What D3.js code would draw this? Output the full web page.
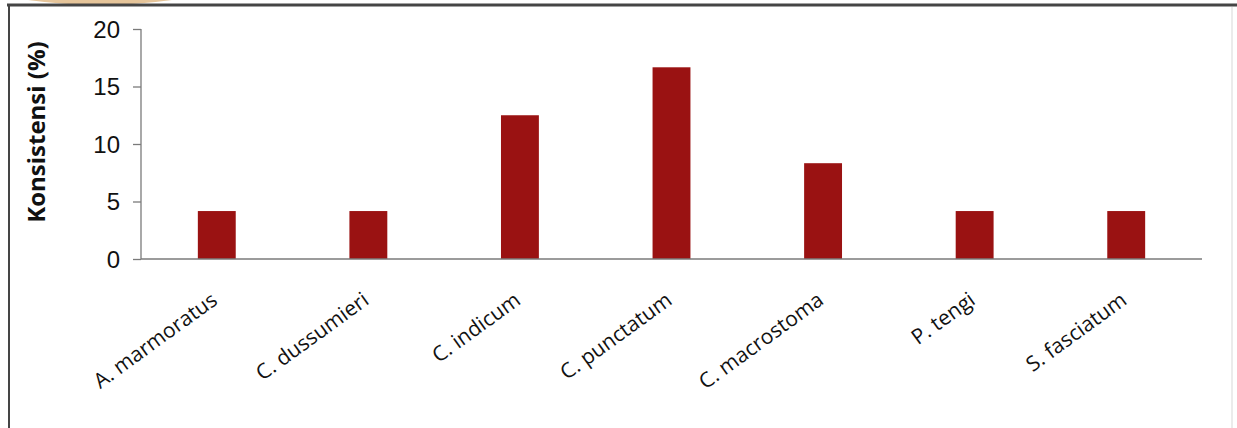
<!DOCTYPE html>
<html>
<head>
<meta charset="utf-8">
<script src="https://cdn.jsdelivr.net/npm/d3@7"></script>
<style>
  html, body { margin: 0; padding: 0; background: #fff; }
  svg { display: block; font-family: "Open Sans", "Noto Sans", sans-serif; }
</style>
</head>
<body>
<div id="chart"></div>
<script>
// Konsistensi (%) per species
const species = ['A. marmoratus', 'C. dussumieri', 'C. indicum', 'C. punctatum', 'C. macrostoma', 'P. tengi', 'S. fasciatum'];
const konsistensi = [4.17, 4.17, 12.5, 16.67, 8.33, 4.17, 4.17];
const yTicks = [0, 5, 10, 15, 20];

const W = 1237, H = 428;
const MARGIN = { top: 29, right: 35, bottom: 169, left: 141 };
const innerW = W - MARGIN.left - MARGIN.right;
const innerH = H - MARGIN.top - MARGIN.bottom;

const svg = d3.select('#chart').append('svg')
  .attr('width', W).attr('height', H);

// photo frame
svg.append('path')
  .attr('d', 'M28,0 Q100,10 172,0 Z')
  .attr('fill', '#e6c59a');
svg.append('line').attr('x1', 7).attr('x2', W).attr('y1', 5).attr('y2', 5)
  .attr('stroke', '#454545').attr('stroke-width', 3);
svg.append('line').attr('x1', 9).attr('x2', 9).attr('y1', 5).attr('y2', H)
  .attr('stroke', '#454545').attr('stroke-width', 2);
svg.append('line').attr('x1', 1232).attr('x2', 1232).attr('y1', 7).attr('y2', H)
  .attr('stroke', '#e4e4e4').attr('stroke-width', 1.5);

const g = svg.append('g').attr('transform', `translate(${MARGIN.left},${MARGIN.top})`);

const x = d3.scaleBand().domain(species).range([0, innerW]).paddingInner(0.75).paddingOuter(0.375);
const y = d3.scaleLinear().domain([0, 20]).range([innerH, 0]);

// bars
g.selectAll('.bar')
  .data(species)
  .join('rect')
    .attr('class', 'bar')
    .attr('x', (d) => x(d))
    .attr('y', (d, i) => y(konsistensi[i]))
    .attr('width', x.bandwidth())
    .attr('height', (d, i) => innerH - y(konsistensi[i]))
    .attr('fill', '#9a1212');

// y axis
g.append('g')
  .call(d3.axisLeft(y).tickValues(yTicks).tickSize(8).tickPadding(13))
  .call(ax => ax.selectAll('path, line').attr('stroke', '#7a7a7a').attr('stroke-width', 1.3))
  .call(ax => ax.select('.domain').attr('d', `M0,0V${innerH}`))
  .call(ax => ax.selectAll('text').attr('fill', '#111').style('font-size', '24px').attr('dy', '0.35em'));

// x axis line
g.append('g')
  .attr('transform', `translate(0,${innerH})`)
  .call(d3.axisBottom(x).tickSize(0).tickFormat(''))
  .call(ax => ax.select('.domain').attr('stroke', '#7a7a7a').attr('stroke-width', 1.6).attr('d', `M0,0H${innerW}`));

// rotated category labels
g.selectAll('.cat-label')
  .data(species)
  .join('text')
    .attr('class', 'cat-label')
    .attr('text-anchor', 'end')
    .attr('transform', d => `translate(${x(d) + x.bandwidth() / 2 + 2},${innerH + 44}) rotate(-36)`)
    .attr('fill', '#111')
    .style('font-size', '21px')
    .text(d => d);

// y axis title
svg.append('text')
  .attr('transform', 'translate(45,132) rotate(-90)')
  .attr('text-anchor', 'middle')
  .attr('fill', '#111')
  .style('font-size', '24px')
  .style('font-weight', 'bold')
  .text('Konsistensi (%)');
</script>
</body>
</html>
